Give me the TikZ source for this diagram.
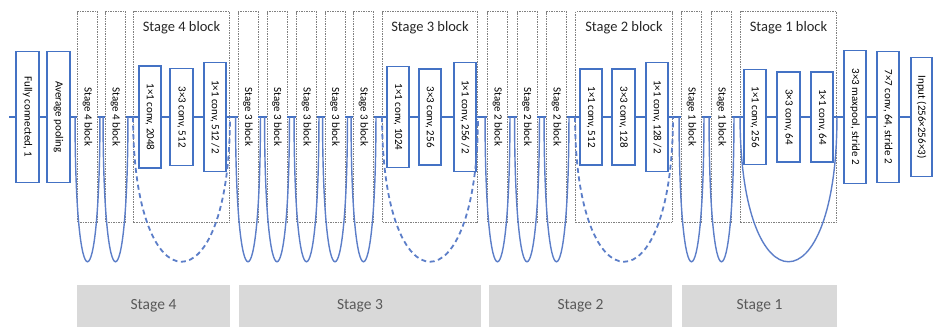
\documentclass[tikz,border=0pt]{standalone}
\usepackage{fontspec}
\setmainfont{Carlito}
\definecolor{cblue}{RGB}{68,114,196}
\definecolor{ublue}{RGB}{92,126,200}
\definecolor{dgray}{RGB}{128,128,128}
\definecolor{barfill}{RGB}{217,217,217}
\definecolor{bartext}{RGB}{89,89,89}
\newcommand{\rotlabel}[1]{\rotatebox{-90}{#1}}
\tikzset{
  convbox/.style={draw=cblue, line width=1.6pt, fill=white, minimum width=22.5pt,
    inner sep=0pt, font=\fontsize{11}{12}\selectfont},
  blkbox/.style={draw=dgray, line width=0.9pt, dash pattern=on 1.5pt off 1pt, fill=white,
    minimum width=20pt, minimum height=211pt, inner sep=0pt, font=\fontsize{11}{12}\selectfont},
  groupbox/.style={draw=dgray, line width=0.9pt, dash pattern=on 1.5pt off 1pt,
    minimum height=211pt, inner sep=0pt},
  grouptitle/.style={font=\fontsize{14.5}{16}\selectfont, text=black!85},
  stagebar/.style={fill=barfill, minimum height=42pt, inner sep=0pt,
    font=\fontsize{15.5}{18}\selectfont, text=bartext},
  mainline/.style={draw=cblue, line width=1.4pt},
  skip/.style={draw=ublue, line width=1.4pt},
  skipdash/.style={draw=ublue, line width=1.8pt, dash pattern=on 5pt off 3.5pt},
}
\begin{document}
\begin{tikzpicture}[x=1pt, y=-1pt]
\useasboundingbox (0,0) rectangle (934,333);

% stage block frames and their titles
\node[groupbox, minimum width=96pt] (g4) at (181.5,117) {};
\node[grouptitle] (g4t) at (181.5,28) {Stage 4 block};
\node[groupbox, minimum width=95pt] (g3) at (430,117) {};
\node[grouptitle] (g3t) at (430,28) {Stage 3 block};
\node[groupbox, minimum width=97pt] (g2) at (624,117) {};
\node[grouptitle] (g2t) at (624,28) {Stage 2 block};
\node[groupbox, minimum width=96pt] (g1) at (788.5,117) {};
\node[grouptitle] (g1t) at (788.5,28) {Stage 1 block};

% head
\node[convbox, minimum height=131pt] (fc) at (27.5,117) {\rotlabel{Fully connected, 1}};
\node[convbox, minimum height=131pt] (avg) at (58.5,117) {\rotlabel{Average pooling}};

% stage 4
\node[blkbox] (s4a) at (87.5,117) {\rotlabel{Stage 4 block}};
\node[blkbox] (s4b) at (115.5,117) {\rotlabel{Stage 4 block}};
\node[convbox, minimum height=102pt] (c4a) at (150,117) {\rotlabel{1×1 conv, 2048}};
\node[convbox, minimum height=97pt] (c4b) at (181.5,117) {\rotlabel{3×3 conv, 512}};
\node[convbox, minimum height=109pt] (c4c) at (215,117) {\rotlabel{1×1 conv, 512 /2}};

% stage 3
\node[blkbox] (s3a) at (248,117) {\rotlabel{Stage 3 block}};
\node[blkbox] (s3b) at (277,117) {\rotlabel{Stage 3 block}};
\node[blkbox] (s3c) at (306.5,117) {\rotlabel{Stage 3 block}};
\node[blkbox] (s3d) at (335,117) {\rotlabel{Stage 3 block}};
\node[blkbox] (s3e) at (363.5,117) {\rotlabel{Stage 3 block}};
\node[convbox, minimum height=101pt] (c3a) at (398,117) {\rotlabel{1×1 conv, 1024}};
\node[convbox, minimum height=96pt] (c3b) at (430,117) {\rotlabel{3×3 conv, 256}};
\node[convbox, minimum height=109pt] (c3c) at (465,117) {\rotlabel{1×1 conv, 256 /2}};

% stage 2
\node[blkbox] (s2a) at (497.5,117) {\rotlabel{Stage 2 block}};
\node[blkbox] (s2b) at (527,117) {\rotlabel{Stage 2 block}};
\node[blkbox] (s2c) at (556.5,117) {\rotlabel{Stage 2 block}};
\node[convbox, minimum height=96pt] (c2a) at (591,117) {\rotlabel{1×1 conv, 512}};
\node[convbox, minimum height=96pt] (c2b) at (623.5,117) {\rotlabel{3×3 conv, 128}};
\node[convbox, minimum height=109pt] (c2c) at (657,117) {\rotlabel{1×1 conv, 128 /2}};

% stage 1
\node[blkbox] (s1a) at (691.5,117) {\rotlabel{Stage 1 block}};
\node[blkbox] (s1b) at (721.5,117) {\rotlabel{Stage 1 block}};
\node[convbox, minimum height=95pt] (c1a) at (755,117) {\rotlabel{1×1 conv, 256}};
\node[convbox, minimum height=90pt] (c1b) at (788.5,117) {\rotlabel{3×3 conv, 64}};
\node[convbox, minimum height=90pt] (c1c) at (822,117) {\rotlabel{1×1 conv, 64}};

% stem
\node[convbox, minimum height=133pt] (pool) at (855,117) {\rotlabel{3×3 maxpool, stride 2}};
\node[convbox, minimum height=131pt] (stem) at (888,117) {\rotlabel{7×7 conv, 64, stride 2}};
\node[convbox, minimum height=119pt, minimum width=21.5pt] (in) at (921.5,117) {\rotlabel{Input (256×256×3)}};

% main data path
\coordinate (lineL) at (9,117);
\draw[mainline] (lineL) -- (fc) -- (avg) -- (s4a) -- (s4b) -- (c4a) -- (c4b) -- (c4c)
  -- (s3a) -- (s3b) -- (s3c) -- (s3d) -- (s3e) -- (c3a) -- (c3b) -- (c3c)
  -- (s2a) -- (s2b) -- (s2c) -- (c2a) -- (c2b) -- (c2c)
  -- (s1a) -- (s1b) -- (c1a) -- (c1b) -- (c1c) -- (pool) -- (stem) -- (in);

% identity shortcuts around the repeated blocks
\foreach \n in {s4a,s4b,s3a,s3b,s3c,s3d,s3e,s2a,s2b,s2c,s1a,s1b}
  \draw[skip] ([xshift=-2pt]\n.west) .. controls +(0,193) and +(0,193) .. ([xshift=2pt]\n.east);

% projection shortcuts around the first block of each stage
\foreach \n in {g4,g3,g2}
  \draw[skipdash] (\n.west) .. controls +(0,193) and +(0,193) .. (\n.east);
\draw[skip] (g1.west) .. controls +(0,193) and +(0,193) .. (g1.east);

% stage bars
\node[stagebar, minimum width=153pt] (b4) at (153.5,306) {Stage 4};
\node[stagebar, minimum width=242pt] (b3) at (360,306) {Stage 3};
\node[stagebar, minimum width=183pt] (b2) at (580.5,306) {Stage 2};
\node[stagebar, minimum width=155pt] (b1) at (759.5,306) {Stage 1};
\end{tikzpicture}
\end{document}
